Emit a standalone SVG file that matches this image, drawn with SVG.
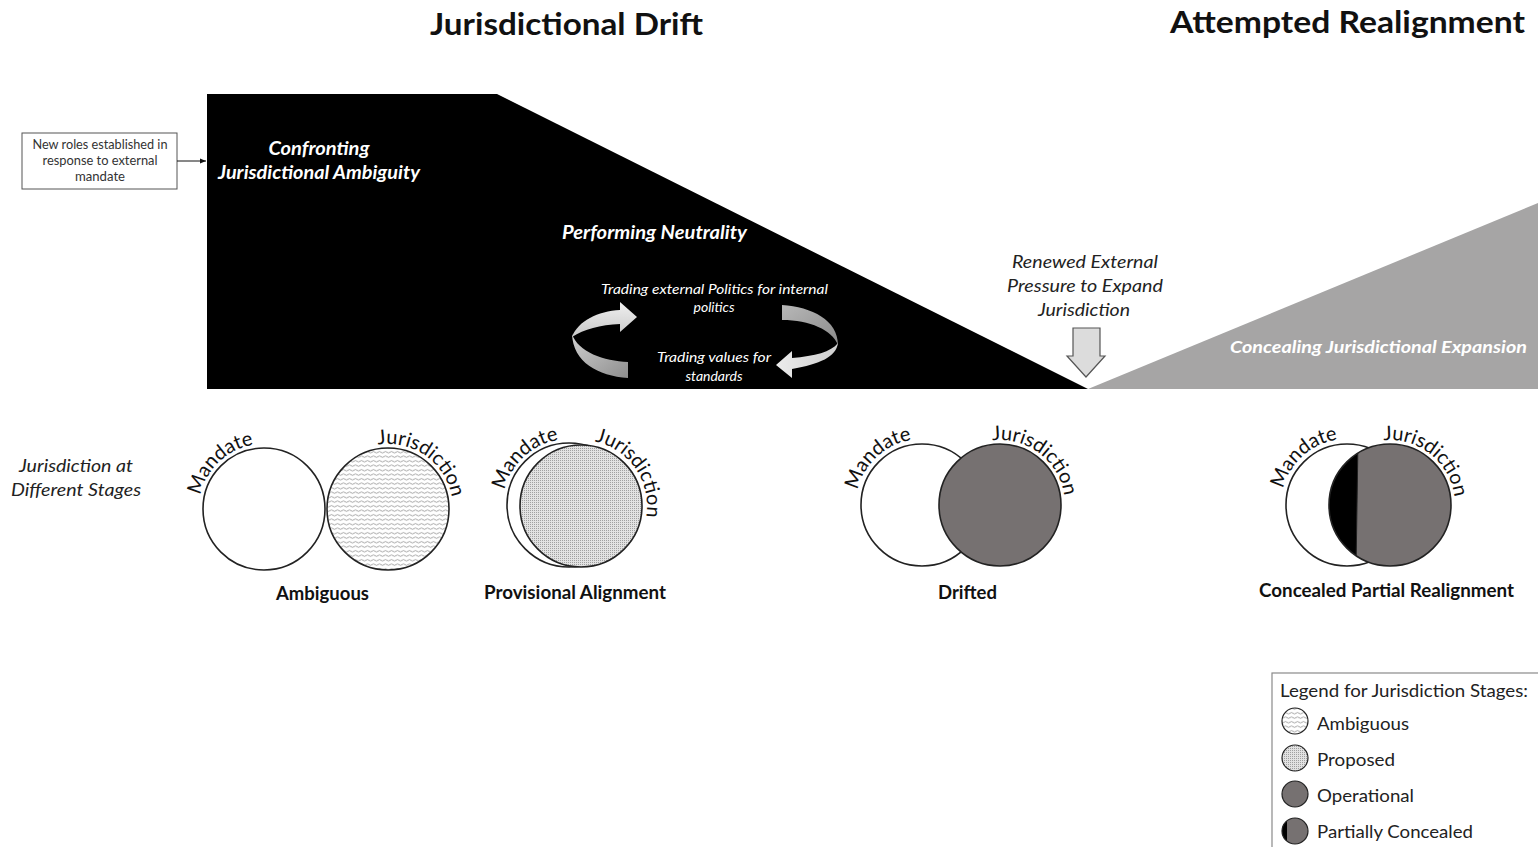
<svg xmlns="http://www.w3.org/2000/svg" width="1538" height="847" viewBox="0 0 1538 847">
<style>
.t{font-family:Lato,"Open Sans","Liberation Sans",sans-serif;}
.title{font-size:30px;font-weight:bold;fill:#111;}
.wbi{font-size:18px;font-weight:bold;font-style:italic;fill:#fff;}
.wi{font-size:14px;font-style:italic;fill:#fff;}
.di{font-size:18px;font-style:italic;fill:#222;}
.lab{font-size:18px;font-weight:bold;fill:#111;}
.arc{font-size:20px;fill:#111;}
.leg{font-size:18px;fill:#222;}
.box{font-size:12.5px;fill:#333;}
.cs{stroke:#222;stroke-width:1.6;}
.ls{stroke:#222;stroke-width:1.2;}
</style>
<defs>
<pattern id="wave" width="6" height="4.5" patternUnits="userSpaceOnUse">
<rect width="6" height="4.5" fill="#fff"/>
<path d="M0,2.2 Q1.5,0.8 3,2.2 T6,2.2" fill="none" stroke="#8a8a8a" stroke-width="0.8"/>
</pattern>
<pattern id="dots" width="2" height="2" patternUnits="userSpaceOnUse">
<rect width="2" height="2" fill="#e2e2e2"/>
<rect width="1" height="1" fill="#a0a0a0"/>
</pattern>
<linearGradient id="gL1" x1="0" y1="0" x2="0" y2="1"><stop offset="0" stop-color="#f0f0f0"/><stop offset="1" stop-color="#c8c8c8"/></linearGradient>
<linearGradient id="gL2" x1="0" y1="0" x2="1" y2="1"><stop offset="0" stop-color="#d0d0d0"/><stop offset="1" stop-color="#8e8e8e"/></linearGradient>
<linearGradient id="gR1" x1="0" y1="0" x2="1" y2="1"><stop offset="0" stop-color="#b8b8b8"/><stop offset="1" stop-color="#8a8a8a"/></linearGradient>
<linearGradient id="gR2" x1="1" y1="0" x2="0" y2="0"><stop offset="0" stop-color="#cfcfcf"/><stop offset="1" stop-color="#ececec"/></linearGradient>
<marker id="ah" viewBox="0 0 10 10" refX="10" refY="5" markerWidth="6" markerHeight="6" orient="auto"><path d="M0,1 L10,5 L0,9 Z" fill="#111"/></marker>
<clipPath id="c4"><circle cx="1390" cy="505" r="61"/></clipPath>
<clipPath id="cl4"><circle cx="1295" cy="831" r="13"/></clipPath>
<path id="m1" d="M200.4,495.5 A65,65 0 0 1 313.8,467.2"/>
<path id="j1" d="M378,444.7 A65,65 0 0 1 449.1,531.2"/>
<path id="m2" d="M504.7,490.2 A66,66 0 0 1 619.6,462.6"/>
<path id="j2" d="M595,441.5 A66,66 0 0 1 631.6,548.4"/>
<path id="m3" d="M857.7,490.2 A66,66 0 0 1 972.6,462.6"/>
<path id="j3" d="M992.3,440.5 A65,65 0 0 1 1058.9,532.5"/>
<path id="m4" d="M1283,489 A66,66 0 0 1 1397.6,462.6"/>
<path id="j4" d="M1383.5,440.4 A65,65 0 0 1 1448.9,532.5"/>
</defs>
<rect width="1538" height="847" fill="#fff"/>

<g id="titles" class="t">
<text class="title" x="430" y="35" textLength="273" lengthAdjust="spacingAndGlyphs">Jurisdictional Drift</text>
<text class="title" x="1170" y="33" textLength="355" lengthAdjust="spacingAndGlyphs">Attempted Realignment</text>
</g>

<g id="phase-drift">
<polygon points="207,94 497,94 1088,389 207,389" fill="#000"/>
</g>
<g id="phase-realign">
<polygon points="1088,389 1538,203 1538,389" fill="#a6a5a5"/>
</g>

<g id="origin-box" class="t">
<rect x="22" y="133" width="155" height="56" fill="#fff" stroke="#555" stroke-width="1"/>
<text class="box" x="100" y="149" text-anchor="middle" textLength="135" lengthAdjust="spacingAndGlyphs">New roles established in</text>
<text class="box" x="100" y="165" text-anchor="middle" textLength="115" lengthAdjust="spacingAndGlyphs">response to external</text>
<text class="box" x="100" y="181" text-anchor="middle" textLength="50" lengthAdjust="spacingAndGlyphs">mandate</text>
</g>

<g id="connectors">
<line x1="177" y1="161" x2="206" y2="161" stroke="#111" stroke-width="1" marker-end="url(#ah)"/>
<path d="M572,337 C578,321 598,311 620,310 L620,302 L637,317 L620,332 L620,324 C600,325 584,329 572,337 Z" fill="url(#gL1)"/>
<path d="M572,334 C578,352 604,361 628,362 L628,378 C598,376 573,362 572,334 Z" fill="url(#gL2)"/>
<path d="M782,305 C812,307 838,320 838,345 C832,330 810,320 782,320 Z" fill="url(#gR1)"/>
<path d="M838,343 C836,357 820,364 792,369 L792,378 L776,365 L792,351 L792,358 C815,356 831,352 838,343 Z" fill="url(#gR2)"/>
<path d="M1073,328 L1100,328 L1100,356 L1105,356 L1086,377 L1067,356 L1073,356 Z" fill="#dcdcdc" stroke="#555" stroke-width="1.2"/>
</g>

<g id="phase-labels" class="t">
<text class="wbi" x="319" y="155" text-anchor="middle" textLength="101" lengthAdjust="spacingAndGlyphs">Confronting</text>
<text class="wbi" x="319" y="179" text-anchor="middle" textLength="202" lengthAdjust="spacingAndGlyphs">Jurisdictional Ambiguity</text>
<text class="wbi" x="654.5" y="239" text-anchor="middle" textLength="185" lengthAdjust="spacingAndGlyphs">Performing Neutrality</text>
<text class="wi" x="714.5" y="294" text-anchor="middle" textLength="227" lengthAdjust="spacingAndGlyphs">Trading external Politics for internal</text>
<text class="wi" x="714" y="312" text-anchor="middle">politics</text>
<text class="wi" x="714" y="362" text-anchor="middle" textLength="114" lengthAdjust="spacingAndGlyphs">Trading values for</text>
<text class="wi" x="714" y="381" text-anchor="middle">standards</text>
<text class="di" x="1085" y="268" text-anchor="middle" textLength="146" lengthAdjust="spacingAndGlyphs">Renewed External</text>
<text class="di" x="1085" y="292" text-anchor="middle" textLength="156" lengthAdjust="spacingAndGlyphs">Pressure to Expand</text>
<text class="di" x="1084" y="316" text-anchor="middle" textLength="92" lengthAdjust="spacingAndGlyphs">Jurisdiction</text>
<text class="wbi" x="1378.5" y="353" text-anchor="middle" textLength="297" lengthAdjust="spacingAndGlyphs" style="font-size:17px">Concealing Jurisdictional Expansion</text>
<text class="di" x="76" y="472" text-anchor="middle" textLength="114" lengthAdjust="spacingAndGlyphs">Jurisdiction at</text>
<text class="di" x="76" y="496" text-anchor="middle" textLength="130" lengthAdjust="spacingAndGlyphs">Different Stages</text>
</g>

<g id="stage-ambiguous" class="t">
<circle cx="264" cy="509" r="61" fill="#fff" class="cs"/>
<circle cx="388" cy="509" r="61" fill="url(#wave)" class="cs"/>
<text class="arc"><textPath href="#m1">Mandate</textPath></text>
<text class="arc"><textPath href="#j1">Jurisdiction</textPath></text>
<text class="lab" x="322.5" y="600" text-anchor="middle" textLength="93" lengthAdjust="spacingAndGlyphs">Ambiguous</text>
</g>

<g id="stage-provisional" class="t">
<circle cx="569" cy="505" r="62" fill="#fff" class="cs"/>
<circle cx="581" cy="506" r="61" fill="url(#dots)" class="cs"/>
<text class="arc"><textPath href="#m2">Mandate</textPath></text>
<text class="arc"><textPath href="#j2">Jurisdiction</textPath></text>
<text class="lab" x="575" y="599" text-anchor="middle" textLength="182" lengthAdjust="spacingAndGlyphs">Provisional Alignment</text>
</g>

<g id="stage-drifted" class="t">
<circle cx="922" cy="505" r="61" fill="#fff" class="cs"/>
<circle cx="1000" cy="505" r="61" fill="#767171" class="cs"/>
<text class="arc"><textPath href="#m3">Mandate</textPath></text>
<text class="arc"><textPath href="#j3">Jurisdiction</textPath></text>
<text class="lab" x="967.5" y="599" text-anchor="middle" textLength="59" lengthAdjust="spacingAndGlyphs">Drifted</text>
</g>

<g id="stage-concealed" class="t">
<circle cx="1347" cy="505" r="61" fill="#fff" class="cs"/>
<g clip-path="url(#c4)">
<rect x="1325" y="440" width="40" height="130" fill="#000"/>
<polygon points="1358,440 1460,440 1460,570 1356,570" fill="#767171"/>
<line x1="1358" y1="440" x2="1356" y2="570" stroke="#222" stroke-width="1"/>
</g>
<circle cx="1390" cy="505" r="61" fill="none" class="cs"/>
<text class="arc"><textPath href="#m4">Mandate</textPath></text>
<text class="arc"><textPath href="#j4">Jurisdiction</textPath></text>
<text class="lab" x="1386.5" y="597" text-anchor="middle" textLength="255" lengthAdjust="spacingAndGlyphs">Concealed Partial Realignment</text>
</g>

<g id="legend" class="t">
<rect x="1272" y="673" width="280" height="190" fill="#fff" stroke="#8a8a8a" stroke-width="1.2"/>
<text class="leg" x="1280" y="697" textLength="248" lengthAdjust="spacingAndGlyphs">Legend for Jurisdiction Stages:</text>
<circle cx="1295" cy="721" r="13" fill="url(#wave)" class="ls"/>
<text class="leg" x="1317" y="730" textLength="92" lengthAdjust="spacingAndGlyphs">Ambiguous</text>
<circle cx="1295" cy="758" r="13" fill="url(#dots)" class="ls"/>
<text class="leg" x="1317" y="766" textLength="78" lengthAdjust="spacingAndGlyphs">Proposed</text>
<circle cx="1295" cy="794" r="13" fill="#767171" class="ls"/>
<text class="leg" x="1317" y="802" textLength="97" lengthAdjust="spacingAndGlyphs">Operational</text>
<g clip-path="url(#cl4)">
<rect x="1280" y="816" width="30" height="30" fill="#767171"/>
<rect x="1280" y="816" width="7" height="30" fill="#000"/>
</g>
<circle cx="1295" cy="831" r="13" fill="none" class="ls"/>
<text class="leg" x="1317" y="838" textLength="156" lengthAdjust="spacingAndGlyphs">Partially Concealed</text>
</g>
</svg>
